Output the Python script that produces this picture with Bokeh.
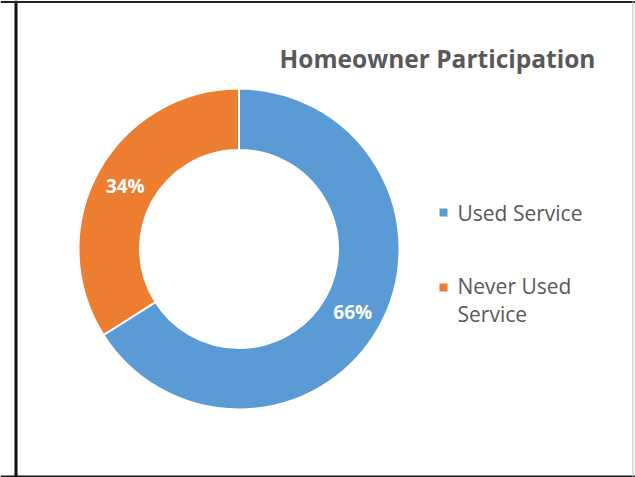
import numpy as np
from bokeh.plotting import figure
from bokeh.models import Range1d, ColumnDataSource, Span
from bokeh.core.properties import value
from bokeh.embed import file_html
from bokeh.resources import INLINE

# ---- data ----
categories = ["Used Service", "Never Used Service"]
values = [66, 34]
colors = ["#5B9BD5", "#ED7D31"]
title_text = "Homeowner Participation"

W, H = 635, 477
p = figure(width=W, height=H, output_backend="svg", toolbar_location=None,
           x_range=Range1d(0, W), y_range=Range1d(0, H), min_border=0)
p.axis.visible = False
p.grid.visible = False
p.outline_line_color = None
p.background_fill_color = "white"

cx, cy = 238.5, 228.5
r_out, r_in = 160.5, 99

vals = np.array(values, dtype=float)
frac = vals / vals.sum()
cum = np.concatenate([[0], np.cumsum(frac)])
start = np.pi / 2 - 2 * np.pi * cum[:-1]
end = np.pi / 2 - 2 * np.pi * cum[1:]
mid = (start + end) / 2
r_lab = (r_out + r_in) / 2

src = ColumnDataSource(dict(
    cat=categories, start=start, end=end, color=colors,
    lx=cx + r_lab * np.cos(mid), ly=cy + r_lab * np.sin(mid),
    lab=[f"{v:.0f}%" for v in frac * 100],
))

p.annular_wedge(x=cx, y=cy, inner_radius=r_in, outer_radius=r_out,
                inner_radius_units="screen", outer_radius_units="screen",
                start_angle="start", end_angle="end", direction="clock",
                fill_color="color", line_color="white", line_width=2, source=src)

p.text(x="lx", y="ly", text="lab", source=src, text_color="white",
       text_font=value("Open Sans"), text_font_style="bold", text_font_size="19px",
       text_align="center", text_baseline="middle")

# title
p.text(x=[437], y=[419], text=[title_text], text_color="#595959",
       text_font=value("Open Sans"), text_font_style="bold", text_font_size="24.5px",
       text_align="center", text_baseline="middle")

# legend
leg_y = [265, 190]
p.scatter(x=[443, 443], y=leg_y, marker="square", size=8, fill_color=colors, line_color=None)
p.text(x=[457], y=[265], text=[categories[0]], text_color="#595959",
       text_font=value("Open Sans"), text_font_size="21px",
       text_align="left", text_baseline="middle")
p.text(x=[457], y=[206], text=["Never Used\nService"], text_color="#595959",
       text_font=value("Open Sans"), text_font_size="21px",
       text_align="left", text_baseline="top", text_line_height=1.02)

# cell borders
p.add_layout(Span(location=15.5, dimension="height", line_color="#111111", line_width=3))
p.add_layout(Span(location=1.0, dimension="width", line_color="#111111", line_width=2))
p.add_layout(Span(location=475.5, dimension="width", line_color="#222222", line_width=2))
p.add_layout(Span(location=632.5, dimension="height", line_color="#bbbbbb", line_width=1))

open("out.html", "w").write(file_html(p, INLINE))
